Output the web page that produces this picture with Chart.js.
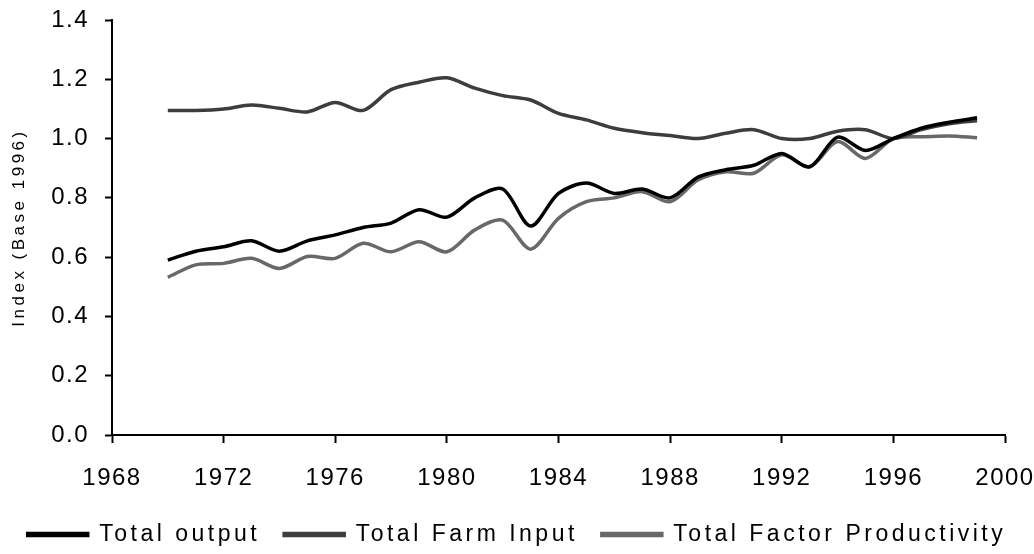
<!DOCTYPE html>
<html>
<head>
<meta charset="utf-8">
<script src="https://cdn.jsdelivr.net/npm/chart.js@4/dist/chart.umd.min.js"></script>
<style>
  html, body { margin: 0; padding: 0; background: #fff; }
  #wrap { width: 1034px; height: 554px; }
</style>
</head>
<body>
<div id="wrap"><canvas id="farmChart" width="1034" height="554"></canvas></div>
<script>
// years and index values (base 1996 = 1.0)
const years = [1970, 1971, 1972, 1973, 1974, 1975, 1976, 1977, 1978, 1979,
               1980, 1981, 1982, 1983, 1984, 1985, 1986, 1987, 1988, 1989,
               1990, 1991, 1992, 1993, 1994, 1995, 1996, 1997, 1998, 1999];
const totalOutput = [0.59, 0.62, 0.635, 0.655, 0.62, 0.655, 0.675, 0.70, 0.715, 0.76,
                     0.735, 0.80, 0.83, 0.705, 0.815, 0.85, 0.815, 0.83, 0.80, 0.87,
                     0.895, 0.91, 0.95, 0.905, 1.005, 0.96, 1.00, 1.035, 1.055, 1.07];
const farmInput = [1.095, 1.095, 1.10, 1.113, 1.102, 1.09, 1.122, 1.095, 1.165, 1.19,
                   1.205, 1.17, 1.145, 1.13, 1.085, 1.063, 1.035, 1.02, 1.01, 1.00,
                   1.018, 1.03, 1.00, 1.00, 1.025, 1.03, 1.00, 1.03, 1.05, 1.06];
const tfp = [0.532, 0.574, 0.579, 0.596, 0.562, 0.602, 0.596, 0.647, 0.618, 0.652,
             0.618, 0.692, 0.725, 0.627, 0.731, 0.787, 0.80, 0.821, 0.787, 0.86,
             0.888, 0.883, 0.945, 0.905, 0.99, 0.933, 1.00, 1.006, 1.009, 1.003];
const xTicks = [1968, 1972, 1976, 1980, 1984, 1988, 1992, 1996, 2000];
const yTicks = [0, 0.2, 0.4, 0.6, 0.8, 1.0, 1.2, 1.4];

const toPoints = arr => years.map((yr, i) => ({ x: yr, y: arr[i] }));

Chart.defaults.font.family = "'Liberation Sans', Arial, sans-serif";
Chart.defaults.color = '#000';

// the old picture's text is wide-spaced; legend + y title get more spacing than tick labels
const spacing = {
    id: 'spacing',
    beforeLayout(chart) { chart.ctx.letterSpacing = '3.5px'; },
    beforeDraw(chart) { chart.ctx.letterSpacing = '3.5px'; },
    beforeDatasetsDraw(chart) { chart.ctx.letterSpacing = '1.5px'; }
};

const line = (label, arr, color) => ({
    label: label,
    data: toPoints(arr),
    borderColor: color,
    backgroundColor: color,
    borderWidth: 3.5,
    pointRadius: 0,
    tension: 0.3,
    fill: false
});

new Chart(document.getElementById('farmChart'), {
    type: 'line',
    data: {
        datasets: [
            line('Total output', totalOutput, '#000000'),
            line('Total Farm Input', farmInput, '#3d3d3d'),
            line('Total Factor Productivity', tfp, '#686868')
        ]
    },
    options: {
        responsive: false,
        animation: false,
        layout: { padding: { top: 20, right: 0, left: 0, bottom: -2 } },
        plugins: {
            tooltip: { enabled: false },
            legend: {
                position: 'bottom',
                labels: {
                    font: { size: 23 },
                    boxWidth: 60,
                    boxHeight: 2,
                    padding: 24
                }
            }
        },
        scales: {
            x: {
                type: 'linear',
                min: 1968,
                max: 2000,
                afterBuildTicks: s => { s.ticks = xTicks.map(v => ({ value: v })); },
                afterFit: s => { s.height = 64; s.paddingRight = 29; },
                ticks: {
                    z: 1,
                    autoSkip: false,
                    maxRotation: 0,
                    padding: 21,
                    font: { size: 24 },
                    callback: v => String(v)
                },
                grid: {
                    drawOnChartArea: false,
                    tickLength: 8,
                    tickWidth: 2,
                    tickColor: '#000'
                },
                border: { color: '#000', width: 2 }
            },
            y: {
                min: 0,
                max: 1.4,
                afterBuildTicks: s => { s.ticks = yTicks.map(v => ({ value: v })); },
                afterFit: s => { s.width = 112; s.paddingTop = 0; },
                ticks: {
                    z: 1,
                    padding: 16,
                    font: { size: 24 },
                    callback: v => v.toFixed(1)
                },
                grid: {
                    drawOnChartArea: false,
                    tickLength: 7,
                    tickWidth: 2,
                    tickColor: '#000'
                },
                border: { color: '#000', width: 2 },
                title: {
                    display: true,
                    text: 'Index (Base 1996)',
                    font: { size: 17 },
                    padding: { top: 9, bottom: 0 }
                }
            }
        }
    },
    plugins: [spacing]
});
</script>
</body>
</html>
